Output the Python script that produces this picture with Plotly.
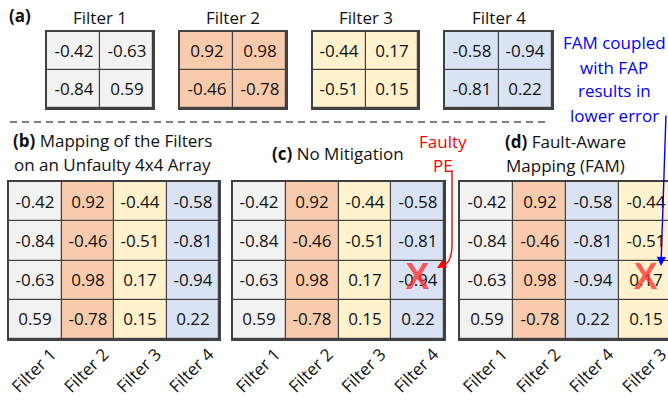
import plotly.graph_objects as go

W, H = 668, 401

# ---------------- data ----------------
filter_names = ["Filter 1", "Filter 2", "Filter 3", "Filter 4"]
filter1 = [[-0.42, -0.63], [-0.84, 0.59]]
filter2 = [[0.92, 0.98], [-0.46, -0.78]]
filter3 = [[-0.44, 0.17], [-0.51, 0.15]]
filter4 = [[-0.58, -0.94], [-0.81, 0.22]]
filters = [filter1, filter2, filter3, filter4]
filter_colors = ["#f2f2f2", "#f8cbad", "#fff2cc", "#dae3f3"]

order_unfaulty = [0, 1, 2, 3]      # (b)
order_no_mitigation = [0, 1, 2, 3]  # (c)
order_fam = [0, 1, 3, 2]            # (d)
faulty_pe = (2, 3)                  # (row, column)

FONT = "Open Sans"
LINE = "#404040"


def px(x):
    return x / W


def py(y):
    return 1 - y / H


def column_major(f):
    return [f[0][0], f[1][0], f[0][1], f[1][1]]


colorscale = []
for i, c in enumerate(filter_colors):
    colorscale.append([i / 4, c])
    colorscale.append([(i + 1) / 4, c])

fig = go.Figure()
layout = {}
ax_i = [0]


def add_grid(z, text, xdom, ydom, xrange, ticktext=None, right_border=True):
    ax_i[0] += 1
    n = ax_i[0]
    xa = "x" if n == 1 else f"x{n}"
    ya = "y" if n == 1 else f"y{n}"
    fig.add_trace(go.Heatmap(
        z=z, text=text, texttemplate="%{text}",
        textfont=dict(family=FONT, size=17, color="#111"),
        colorscale=colorscale, zmin=-0.5, zmax=3.5, showscale=False,
        xgap=1.2, ygap=1.2, hoverinfo="skip", xaxis=xa, yaxis=ya))
    nrows = len(z)
    ncols = len(z[0])
    xk = "xaxis" if n == 1 else f"xaxis{n}"
    yk = "yaxis" if n == 1 else f"yaxis{n}"
    layout[xk] = dict(domain=xdom, range=xrange, anchor=ya, showgrid=False,
                      zeroline=False, showline=True, mirror=True,
                      linecolor=LINE, linewidth=1.5, automargin=False,
                      tickvals=list(range(ncols)) if ticktext else [],
                      ticktext=ticktext if ticktext else [],
                      tickangle=-45, ticks="", ticklabelshift=16,
                      ticklabelstandoff=-3, ticklabeloverflow="allow",
                      tickfont=dict(family=FONT, size=17, color="#111"),
                      fixedrange=True)
    layout[yk] = dict(domain=ydom, range=[nrows - 0.5, -0.5], anchor=xa,
                      showgrid=False, zeroline=False, showline=True,
                      mirror=right_border, linecolor=LINE, linewidth=1.5,
                      automargin=False,
                      showticklabels=False, ticks="", fixedrange=True)
    return xa, ya


# (a) four 2x2 filters
top_x = [(47, 153), (180, 286), (313, 418), (445, 552)]
for i, f in enumerate(filters):
    z = [[i, i], [i, i]]
    t = [[f"{v:.2f}" for v in row] for row in f]
    add_grid(z, t, [px(top_x[i][0]), px(top_x[i][1])], [py(108), py(32)],
             [-0.5, 1.5])


def big(order, xdom, xrange, right_border=True):
    z = [[order[c] for c in range(4)] for r in range(4)]
    cols = [column_major(filters[k]) for k in order]
    t = [[f"{cols[c][r]:.2f}" for c in range(4)] for r in range(4)]
    return add_grid(z, t, xdom, [py(339), py(182)], xrange,
                    ticktext=[filter_names[k] for k in order],
                    right_border=right_border)


big(order_unfaulty, [px(9), px(219)], [-0.5, 3.5])
xc, yc = big(order_no_mitigation, [px(233), px(444)], [-0.5, 3.5])
xd, yd = big(order_fam, [px(460), 1.0], [-0.5, 3.42], right_border=False)

# faulty PE marks
for xa, ya in [(xc, yc), (xd, yd)]:
    fig.add_trace(go.Scatter(
        x=[faulty_pe[1]], y=[faulty_pe[0]], mode="text", text=["X"],
        textfont=dict(family="Liberation Sans", size=36, weight="bold",
                      color="rgba(255,50,50,0.78)"),
        textposition="middle center", hoverinfo="skip",
        xaxis=xa, yaxis=ya, showlegend=False))

annotations = []


def label(x, y, text, size=17, color="#111", xanchor="center"):
    annotations.append(dict(x=px(x), y=py(y), xref="paper", yref="paper",
                            text=text, showarrow=False, xanchor=xanchor,
                            yanchor="middle",
                            font=dict(family=FONT, size=size, color=color)))


label(7, 16, "<b>(a)</b>", xanchor="left")
for i, name in enumerate(filter_names):
    label((top_x[i][0] + top_x[i][1]) / 2, 17, name)

label(112, 140, "<b>(b)</b> Mapping of the Filters")
label(112, 164, "on an Unfaulty 4x4 Array")
label(338, 153, "<b>(c)</b> No Mitigation")
label(565, 142, "<b>(d)</b> Fault-Aware")
label(565, 165, "Mapping (FAM)")
label(443, 142, "Faulty", color="#ff0000")
label(443, 165, "PE", color="#ff0000")
for k, line in enumerate(["FAM coupled", "with FAP", "results in", "lower error"]):
    label(614, 43 + 24 * k, line, color="#0000ff")

# arrows
annotations.append(dict(x=px(661), y=py(266), xref="paper", yref="paper",
                        ax=5, ay=-152, text="", showarrow=True, arrowhead=2,
                        arrowsize=1.3, arrowwidth=1.4, arrowcolor="#0000ff"))
annotations.append(dict(x=px(437), y=py(268), xref="paper", yref="paper",
                        ax=7, ay=-4, text="", showarrow=True, arrowhead=2,
                        arrowsize=1.3, arrowwidth=1.4, arrowcolor="#ff0000"))

shapes = [
    dict(type="line", xref="paper", yref="paper", x0=px(10), x1=px(548),
         y0=py(122), y1=py(122), line=dict(color="#555", width=1.4,
                                           dash="7px,5px")),
    dict(type="path", xref="paper", yref="paper",
         path=(f"M {px(452)},{py(170)} L {px(452)},{py(245)} "
               f"Q {px(452)},{py(262)} {px(443)},{py(266)}"),
         line=dict(color="#ff0000", width=1.4)),
]

fig.update_layout(
    width=W, height=H, margin=dict(l=0, r=0, t=0, b=0),
    paper_bgcolor="white", plot_bgcolor=LINE, showlegend=False,
    annotations=annotations, shapes=shapes, **layout)

fig.write_html(
    "out.html",
    config={"displayModeBar": False},
    post_script="document.body.style.margin='0';"
                "document.body.style.overflow='hidden';")
